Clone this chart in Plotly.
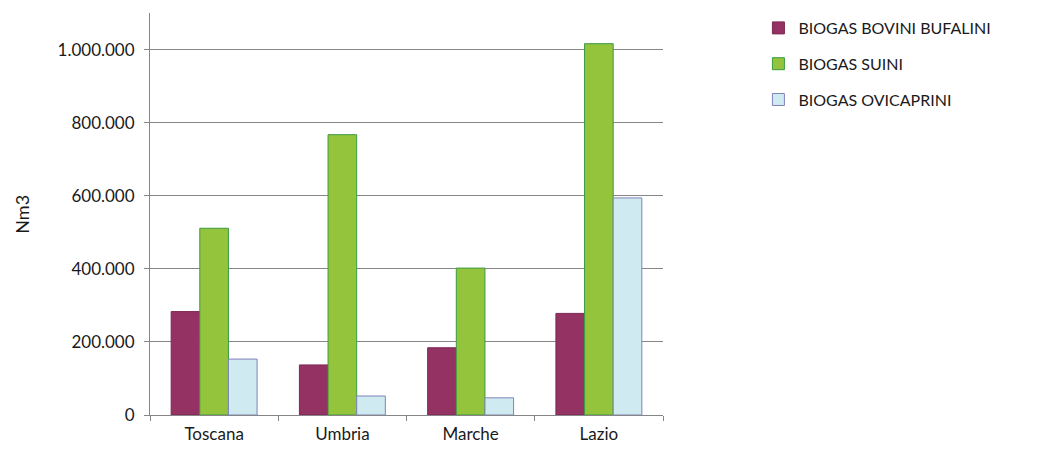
import plotly.graph_objects as go

regions = ["Toscana", "Umbria", "Marche", "Lazio"]
bovini_bufalini = [283000, 137000, 184000, 278000]
suini = [511000, 767000, 402000, 1016000]
ovicaprini = [153000, 52000, 47000, 594000]

series = [
    ("BIOGAS BOVINI BUFALINI", bovini_bufalini, "#943263", "#7d2754"),
    ("BIOGAS SUINI", suini, "#94c33c", "#3c9a40"),
    ("BIOGAS OVICAPRINI", ovicaprini, "#cfeaf0", "#7f82ba"),
]

fig = go.Figure()
for name, vals, fill, edge in series:
    fig.add_trace(go.Bar(
        name=name, x=regions, y=vals, legendgroup=name,
        marker=dict(color=fill, line=dict(color=edge, width=1)),
    ))

axis_grey = "#868686"
fig.update_layout(
    width=1049, height=453,
    margin=dict(l=150, r=386, t=13, b=38, autoexpand=False),
    paper_bgcolor="white", plot_bgcolor="white",
    barmode="group", bargap=0.33, bargroupgap=0,
    font=dict(family="Lato, Open Sans, sans-serif", size=17, color="#1a1a1a"),
    showlegend=True,
    legend=dict(x=1.186, y=1.005, xanchor="left", yanchor="top",
                traceorder="grouped", tracegroupgap=12,
                font=dict(size=16), itemwidth=30),
    xaxis=dict(showline=True, linecolor=axis_grey, linewidth=1,
               ticks="outside", tickson="boundaries", ticklen=5,
               tickcolor=axis_grey, showgrid=False, fixedrange=True,
               ticklabelstandoff=4, automargin=False),
    yaxis=dict(range=[0, 1100000], tickvals=[0, 200000, 400000, 600000, 800000, 1000000],
               ticktext=["0", "200.000", "400.000", "600.000", "800.000", "1.000.000"],
               showline=True, linecolor=axis_grey, linewidth=1,
               ticks="outside", ticklen=5, tickcolor=axis_grey,
               showgrid=True, gridcolor=axis_grey, gridwidth=1, zeroline=False,
               ticklabelstandoff=6, automargin=False),
)
fig.add_annotation(text="Nm3", x=-0.25, y=0.5, xref="paper", yref="paper",
                   textangle=-90, showarrow=False, xanchor="center", yanchor="middle",
                   font=dict(size=18))

fig.write_html("out.html")
